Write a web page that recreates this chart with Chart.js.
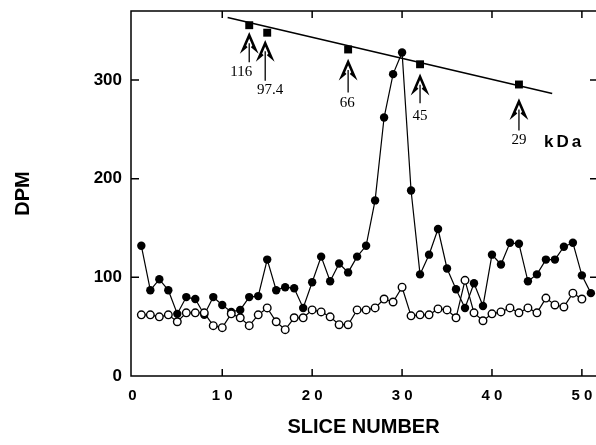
<!DOCTYPE html>
<html>
<head>
<meta charset="utf-8">
<script src="https://cdn.jsdelivr.net/npm/chart.js@4.4.1/dist/chart.umd.min.js"></script>
<style>
  html, body { margin: 0; padding: 0; background: #fff; overflow: hidden; }
  #wrap { width: 596px; height: 445px; position: relative; }
</style>
</head>
<body>
<div id="wrap"><canvas id="sliceChart"></canvas></div>
<script>
// --- data ---
const slices = [1, 2, 3, 4, 5, 6, 7, 8, 9, 10, 11, 12, 13, 14, 15, 16, 17, 18, 19, 20,
                21, 22, 23, 24, 25, 26, 27, 28, 29, 30, 31, 32, 33, 34, 35, 36, 37, 38, 39, 40,
                41, 42, 43, 44, 45, 46, 47, 48, 49, 50, 51];

// filled circles
const filledDpm = [132, 87, 98, 87, 63, 80, 78, 62, 80, 72, 65, 67, 80, 81, 118, 87, 90, 89, 69, 95,
                   121, 96, 114, 105, 121, 132, 178, 262, 306, 328, 188, 103, 123, 149, 109, 88, 69, 94, 71, 123,
                   113, 135, 134, 96, 103, 118, 118, 131, 135, 102, 84];

// open circles (slices 1..50)
const openDpm = [62, 62, 60, 62, 55, 64, 64, 64, 51, 49, 63, 59, 51, 62, 69, 55, 47, 59, 59, 67,
                 65, 60, 52, 52, 67, 67, 69, 78, 75, 90, 61, 62, 62, 68, 67, 59, 97, 64, 56, 63,
                 65, 69, 64, 69, 64, 79, 72, 70, 84, 78];

// molecular weight standards (squares) and their fitted line
const standardSlices = [13, 15, 24, 32, 43];
const standardLevels = [355.6, 348, 331, 316, 295.5];
const standardKda = ['116', '97.4', '66', '45', '29'];
const fitSlices = [10.6, 46.7];
const fitLevels = [363.4, 286.4];

// axes
const xTickValues = [0, 10, 20, 30, 40, 50];
const xTickLabels = ['0', '1 0', '2 0', '3 0', '4 0', '5 0'];
const yTickValues = [0, 100, 200, 300];
const yTickLabels = ['0', '100', '200', '300'];

const SANS = "'Liberation Sans', Arial, Helvetica, sans-serif";
const SERIF = "'Liberation Serif', 'Times New Roman', Times, serif";

// frame with inward ticks on all four sides
const frameTicks = {
  id: 'frameTicks',
  beforeDatasetsDraw(chart) {
    const { ctx, chartArea: a, scales: { x, y } } = chart;
    ctx.save();
    ctx.strokeStyle = '#000';
    ctx.lineWidth = 1.5;
    ctx.beginPath();
    ctx.moveTo(a.right, a.top);
    ctx.lineTo(a.left, a.top);
    ctx.lineTo(a.left, a.bottom);
    ctx.lineTo(a.right, a.bottom);
    xTickValues.forEach(v => {
      if (!v) return;
      const px = x.getPixelForValue(v);
      ctx.moveTo(px, a.bottom); ctx.lineTo(px, a.bottom - 7);
      ctx.moveTo(px, a.top); ctx.lineTo(px, a.top + 7);
    });
    yTickValues.forEach(v => {
      if (!v) return;
      const py = y.getPixelForValue(v);
      ctx.moveTo(a.left, py); ctx.lineTo(a.left + 8, py);
      ctx.moveTo(a.right, py); ctx.lineTo(a.right - 6, py);
    });
    ctx.stroke();
    ctx.restore();
  }
};

// arrows + kDa labels under each standard (pixel offsets relative to the square)
const arrowLayout = [
  { head: 10, shaft: 37, lx: -8, ly: 47 },
  { head: 10.5, shaft: 48, lx: 3, ly: 57, ax: -2 },
  { head: 12.5, shaft: 43, lx: -1, ly: 54 },
  { head: 12.5, shaft: 39, lx: 0, ly: 52 },
  { head: 17, shaft: 46, lx: 0, ly: 56 }
];
const markerArrows = {
  id: 'markerArrows',
  afterDatasetsDraw(chart) {
    const { ctx, scales: { x, y } } = chart;
    ctx.save();
    ctx.strokeStyle = '#000';
    ctx.fillStyle = '#000';
    standardSlices.forEach((s, i) => {
      const L = arrowLayout[i];
      const sx = x.getPixelForValue(s) + (L.ax || 0);
      const sy = y.getPixelForValue(standardLevels[i]);
      const top = sy + L.head;
      // arrow head
      ctx.lineWidth = 2.6;
      ctx.lineJoin = 'miter';
      ctx.beginPath();
      ctx.moveTo(sx - 2.5, top + 11);
      ctx.lineTo(sx - 6, top + 14);
      ctx.lineTo(sx, top);
      ctx.lineTo(sx + 6, top + 14);
      ctx.lineTo(sx + 2.5, top + 11);
      ctx.stroke();
      // shaft
      ctx.lineWidth = 1.3;
      ctx.beginPath();
      ctx.moveTo(sx, top + 8);
      ctx.lineTo(sx, sy + L.shaft);
      ctx.stroke();
      // label
      ctx.font = '15px ' + SERIF;
      ctx.textAlign = 'center';
      ctx.textBaseline = 'middle';
      ctx.fillText(standardKda[i], sx - (L.ax || 0) + L.lx, sy + L.ly);
    });
    // unit
    const last = standardSlices.length - 1;
    const ux = x.getPixelForValue(standardSlices[last]) + 25;
    const uy = y.getPixelForValue(standardLevels[last]) + 58;
    ctx.font = 'bold 17px ' + SANS;
    ctx.textAlign = 'left';
    ctx.textBaseline = 'middle';
    ctx.letterSpacing = '3px';
    ctx.fillText('kDa', ux, uy);
    ctx.restore();
  }
};

const pts = (xs, ys) => ys.map((v, i) => ({ x: xs[i], y: v }));

// invisible tick marks just reserve the gap between axis and labels
const hiddenTicks = len => ({
  display: true, drawOnChartArea: false, drawTicks: true,
  tickLength: len, color: 'rgba(0,0,0,0)'
});

new Chart(document.getElementById('sliceChart'), {
  type: 'scatter',
  data: {
    datasets: [
      {
        label: 'open',
        data: pts(slices, openDpm),
        showLine: true,
        borderColor: '#000',
        borderWidth: 1.2,
        pointStyle: 'circle',
        pointRadius: 3.8,
        pointBackgroundColor: '#fff',
        pointBorderColor: '#000',
        pointBorderWidth: 1.4
      },
      {
        label: 'filled',
        data: pts(slices, filledDpm),
        showLine: true,
        borderColor: '#000',
        borderWidth: 1.2,
        pointStyle: 'circle',
        pointRadius: 4.2,
        pointBackgroundColor: '#000',
        pointBorderColor: '#000',
        pointBorderWidth: 0
      },
      {
        label: 'fit',
        data: pts(fitSlices, fitLevels),
        showLine: true,
        borderColor: '#000',
        borderWidth: 1.6,
        pointRadius: 0
      },
      {
        label: 'standards',
        data: pts(standardSlices, standardLevels),
        showLine: false,
        pointStyle: 'rect',
        pointRadius: 5.6,
        pointBackgroundColor: '#000',
        pointBorderWidth: 0
      }
    ]
  },
  options: {
    responsive: true,
    maintainAspectRatio: false,
    animation: false,
    layout: { autoPadding: false, padding: { top: 11, right: 0, bottom: 0, left: 0 } },
    plugins: { legend: { display: false }, tooltip: { enabled: false } },
    scales: {
      x: {
        type: 'linear',
        min: -0.15,
        max: 51.57,
        grid: hiddenTicks(11),
        border: { display: false },
        afterBuildTicks: s => { s.ticks = xTickValues.map(v => ({ value: v })); },
        afterFit: s => { s.height = 69; s.paddingLeft = 0; s.paddingRight = 0; },
        ticks: {
          autoSkip: false,
          maxRotation: 0,
          padding: 0,
          color: '#000',
          font: { family: SANS, size: 15, weight: 'bold' },
          callback: v => xTickLabels[xTickValues.indexOf(v)]
        },
        title: {
          display: true,
          text: 'SLICE NUMBER',
          color: '#000',
          font: { family: SANS, size: 20, weight: 'bold' },
          padding: { top: 0, bottom: 6 }
        }
      },
      y: {
        type: 'linear',
        min: 0,
        max: 370,
        grid: hiddenTicks(9),
        border: { display: false },
        afterBuildTicks: s => { s.ticks = yTickValues.map(v => ({ value: v })); },
        afterFit: s => { s.width = 131; },
        ticks: {
          padding: 0,
          color: '#000',
          font: { family: SANS, size: 17, weight: 'bold' },
          callback: v => yTickLabels[yTickValues.indexOf(v)]
        },
        title: {
          display: true,
          text: 'DPM',
          color: '#000',
          font: { family: SANS, size: 20, weight: 'bold' },
          padding: { top: 11, bottom: 0 }
        }
      }
    }
  },
  plugins: [frameTicks, markerArrows]
});
</script>
</body>
</html>
